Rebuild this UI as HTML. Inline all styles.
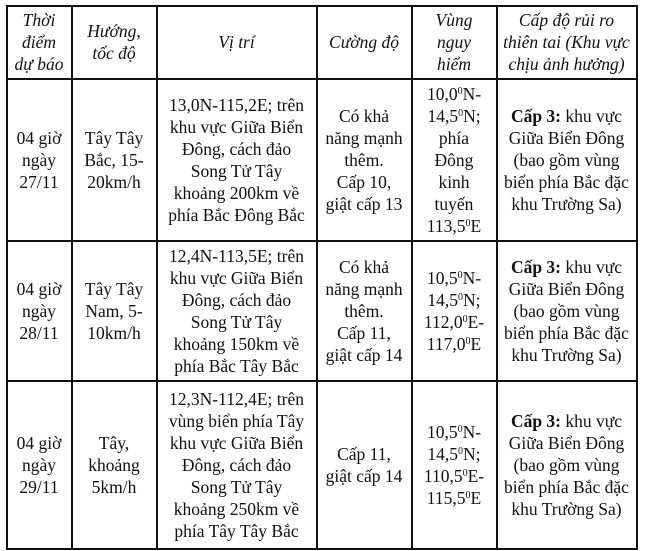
<!DOCTYPE html>
<html><head><meta charset="utf-8"><style>
body{margin:0;background:#fff;width:652px;height:551px;overflow:hidden;font-family:"Liberation Serif",serif;color:#111;}
.c{position:absolute;display:flex;align-items:center;justify-content:center;text-align:center;font-size:17.5px;line-height:22px;box-sizing:border-box;}
.c>span{display:block}
.h{font-style:italic}
.l{position:absolute;background:#111}
sup{font-size:10px;line-height:0;vertical-align:6px}
</style></head><body>
<div class="l" style="left:6px;top:5px;width:631px;height:1.5px"></div>
<div class="l" style="left:6px;top:78px;width:631px;height:1.5px"></div>
<div class="l" style="left:6px;top:240px;width:631px;height:1.5px"></div>
<div class="l" style="left:6px;top:380px;width:631px;height:1.5px"></div>
<div class="l" style="left:6px;top:548px;width:631px;height:1.5px"></div>
<div class="l" style="left:6px;top:5px;width:1.5px;height:545px"></div>
<div class="l" style="left:71px;top:5px;width:1.5px;height:545px"></div>
<div class="l" style="left:156px;top:5px;width:1.5px;height:545px"></div>
<div class="l" style="left:316px;top:5px;width:1.5px;height:545px"></div>
<div class="l" style="left:411px;top:5px;width:1.5px;height:545px"></div>
<div class="l" style="left:496px;top:5px;width:1.5px;height:545px"></div>
<div class="l" style="left:636px;top:5px;width:1.5px;height:545px"></div>

<div class="c h" style="left:7px;top:6px;width:64px;height:72px"><span>Thời<br>điểm<br>dự báo</span></div>
<div class="c h" style="left:72px;top:6px;width:84px;height:72px"><span>Hướng,<br>tốc độ</span></div>
<div class="c h" style="left:157px;top:6px;width:159px;height:72px"><span>Vị trí</span></div>
<div class="c h" style="left:317px;top:6px;width:94px;height:72px"><span>Cường độ</span></div>
<div class="c h" style="left:412px;top:6px;width:84px;height:72px"><span>Vùng<br>nguy<br>hiểm</span></div>
<div class="c h" style="left:497px;top:6px;width:139px;height:72px"><span>Cấp độ rủi ro<br>thiên tai (Khu vực<br>chịu ảnh hưởng)</span></div>

<div class="c" style="left:7px;top:80px;width:64px;height:160px"><span>04 giờ<br>ngày<br>27/11</span></div>
<div class="c" style="left:72px;top:80px;width:84px;height:160px"><span>Tây Tây<br>Bắc, 15-<br>20km/h</span></div>
<div class="c" style="left:157px;top:80px;width:159px;height:160px"><span>13,0N-115,2E; trên<br>khu vực Giữa Biển<br>Đông, cách đảo<br>Song Tử Tây<br>khoảng 200km về<br>phía Bắc Đông Bắc</span></div>
<div class="c" style="left:317px;top:80px;width:94px;height:160px"><span>Có khả<br>năng mạnh<br>thêm.<br>Cấp 10,<br>giật cấp 13</span></div>
<div class="c" style="left:412px;top:80px;width:84px;height:160px"><span>10,0<sup>0</sup>N-<br>14,5<sup>0</sup>N;<br>phía<br>Đông<br>kinh<br>tuyến<br>113,5<sup>0</sup>E</span></div>
<div class="c" style="left:497px;top:80px;width:139px;height:160px"><span><b>Cấp 3:</b> khu vực<br>Giữa Biển Đông<br>(bao gồm vùng<br>biển phía Bắc đặc<br>khu Trường Sa)</span></div>

<div class="c" style="left:7px;top:242px;width:64px;height:138px"><span>04 giờ<br>ngày<br>28/11</span></div>
<div class="c" style="left:72px;top:242px;width:84px;height:138px"><span>Tây Tây<br>Nam, 5-<br>10km/h</span></div>
<div class="c" style="left:157px;top:242px;width:159px;height:138px"><span>12,4N-113,5E; trên<br>khu vực Giữa Biển<br>Đông, cách đảo<br>Song Tử Tây<br>khoảng 150km về<br>phía Bắc Tây Bắc</span></div>
<div class="c" style="left:317px;top:242px;width:94px;height:138px"><span>Có khả<br>năng mạnh<br>thêm.<br>Cấp 11,<br>giật cấp 14</span></div>
<div class="c" style="left:412px;top:242px;width:84px;height:138px"><span>10,5<sup>0</sup>N-<br>14,5<sup>0</sup>N;<br>112,0<sup>0</sup>E-<br>117,0<sup>0</sup>E</span></div>
<div class="c" style="left:497px;top:242px;width:139px;height:138px"><span><b>Cấp 3:</b> khu vực<br>Giữa Biển Đông<br>(bao gồm vùng<br>biển phía Bắc đặc<br>khu Trường Sa)</span></div>

<div class="c" style="left:7px;top:382px;width:64px;height:166px"><span>04 giờ<br>ngày<br>29/11</span></div>
<div class="c" style="left:72px;top:382px;width:84px;height:166px"><span>Tây,<br>khoảng<br>5km/h</span></div>
<div class="c" style="left:157px;top:382px;width:159px;height:166px"><span>12,3N-112,4E; trên<br>vùng biển phía Tây<br>khu vực Giữa Biển<br>Đông, cách đảo<br>Song Tử Tây<br>khoảng 250km về<br>phía Tây Tây Bắc</span></div>
<div class="c" style="left:317px;top:382px;width:94px;height:166px"><span>Cấp 11,<br>giật cấp 14</span></div>
<div class="c" style="left:412px;top:382px;width:84px;height:166px"><span>10,5<sup>0</sup>N-<br>14,5<sup>0</sup>N;<br>110,5<sup>0</sup>E-<br>115,5<sup>0</sup>E</span></div>
<div class="c" style="left:497px;top:382px;width:139px;height:166px"><span><b>Cấp 3:</b> khu vực<br>Giữa Biển Đông<br>(bao gồm vùng<br>biển phía Bắc đặc<br>khu Trường Sa)</span></div>
</body></html>
